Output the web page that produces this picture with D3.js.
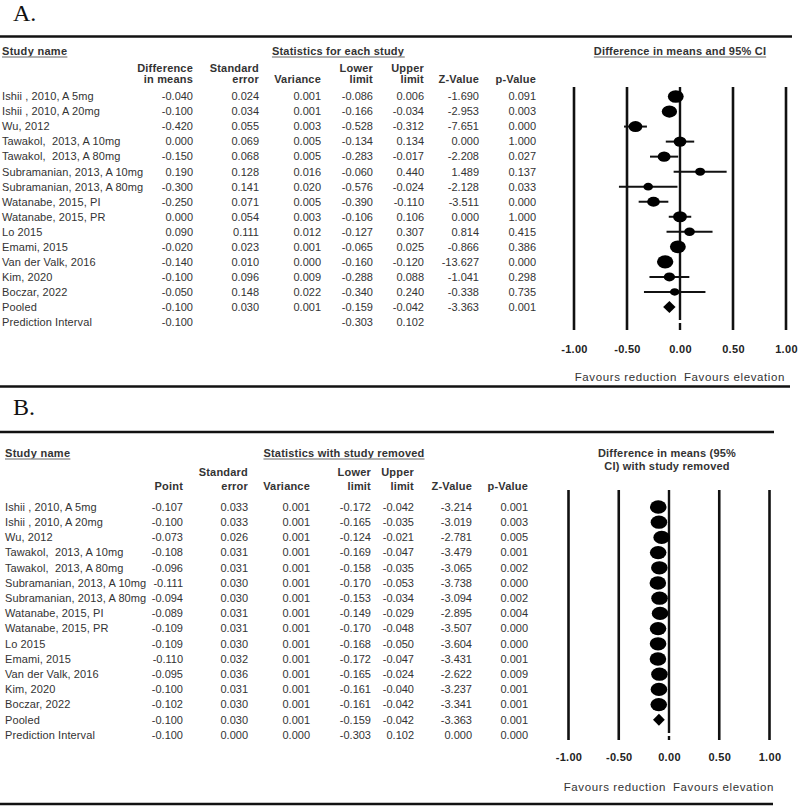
<!DOCTYPE html>
<html>
<head>
<meta charset="utf-8">
<script src="https://cdn.jsdelivr.net/npm/d3@7"></script>
<style>
  html, body { margin: 0; padding: 0; background: #fff; }
  svg text { font-family: "Liberation Sans", Arial, sans-serif; fill: #333; white-space: pre; }
</style>
</head>
<body>
<svg id="chart" width="798" height="806"></svg>
<script>
// ---------------- DATA ----------------
const studies = [
  "Ishii , 2010, A 5mg", "Ishii , 2010, A 20mg", "Wu, 2012",
  "Tawakol,  2013, A 10mg", "Tawakol,  2013, A 80mg",
  "Subramanian, 2013, A 10mg", "Subramanian, 2013, A 80mg",
  "Watanabe, 2015, PI", "Watanabe, 2015, PR", "Lo 2015", "Emami, 2015",
  "Van der Valk, 2016", "Kim, 2020", "Boczar, 2022", "Pooled", "Prediction Interval"
];
const studiesB = [
  "Ishii , 2010, A 5mg", "Ishii , 2010, A 20mg", "Wu, 2012",
  "Tawakol,  2013, A 10mg", "Tawakol,  2013, A 80mg",
  "Subramanian, 2013, A 10mg", "Subramanian, 2013, A 80mg",
  "Watanabe, 2015, PI", "Watanabe, 2015, PR", "Lo 2015", "Emami, 2015",
  "Van der Valk, 2016", "Kim, 2020", "Boczar, 2022", "Pooled", "Prediction Interval"
];

// Panel A: statistics for each study (last two rows: Pooled, Prediction Interval)
const diffA  = [-0.040,-0.100,-0.420, 0.000,-0.150, 0.190,-0.300,-0.250, 0.000, 0.090,-0.020,-0.140,-0.100,-0.050,-0.100,-0.100];
const seA    = [ 0.024, 0.034, 0.055, 0.069, 0.068, 0.128, 0.141, 0.071, 0.054, 0.111, 0.023, 0.010, 0.096, 0.148, 0.030, null];
const varA   = [ 0.001, 0.001, 0.003, 0.005, 0.005, 0.016, 0.020, 0.005, 0.003, 0.012, 0.001, 0.000, 0.009, 0.022, 0.001, null];
const lowerA = [-0.086,-0.166,-0.528,-0.134,-0.283,-0.060,-0.576,-0.390,-0.106,-0.127,-0.065,-0.160,-0.288,-0.340,-0.159,-0.303];
const upperA = [ 0.006,-0.034,-0.312, 0.134,-0.017, 0.440,-0.024,-0.110, 0.106, 0.307, 0.025,-0.120, 0.088, 0.240,-0.042, 0.102];
const zA     = [-1.690,-2.953,-7.651, 0.000,-2.208, 1.489,-2.128,-3.511, 0.000, 0.814,-0.866,-13.627,-1.041,-0.338,-3.363, null];
const pA     = [ 0.091, 0.003, 0.000, 1.000, 0.027, 0.137, 0.033, 0.000, 1.000, 0.415, 0.386, 0.000, 0.298, 0.735, 0.001, null];

// Panel B: statistics with study removed
const pointB = [-0.107,-0.100,-0.073,-0.108,-0.096,-0.111,-0.094,-0.089,-0.109,-0.109,-0.110,-0.095,-0.100,-0.102,-0.100,-0.100];
const seB    = [ 0.033, 0.033, 0.026, 0.031, 0.031, 0.030, 0.030, 0.031, 0.031, 0.030, 0.032, 0.036, 0.031, 0.030, 0.030, 0.000];
const varB   = [ 0.001, 0.001, 0.001, 0.001, 0.001, 0.001, 0.001, 0.001, 0.001, 0.001, 0.001, 0.001, 0.001, 0.001, 0.001, 0.000];
const lowerB = [-0.172,-0.165,-0.124,-0.169,-0.158,-0.170,-0.153,-0.149,-0.170,-0.168,-0.172,-0.165,-0.161,-0.161,-0.159,-0.303];
const upperB = [-0.042,-0.035,-0.021,-0.047,-0.035,-0.053,-0.034,-0.029,-0.048,-0.050,-0.047,-0.024,-0.040,-0.042,-0.042, 0.102];
const zB     = [-3.214,-3.019,-2.781,-3.479,-3.065,-3.738,-3.094,-2.895,-3.507,-3.604,-3.431,-2.622,-3.237,-3.341,-3.363, 0.000];
const pB     = [ 0.001, 0.003, 0.005, 0.001, 0.002, 0.000, 0.002, 0.004, 0.000, 0.000, 0.001, 0.009, 0.001, 0.001, 0.001, 0.000];

const axisTicks = [-1.00, -0.50, 0.00, 0.50, 1.00];

// ---------------- DRAW ----------------
const loc = d3.formatLocale({decimal: ".", thousands: ",", grouping: [3], currency: ["", ""], minus: "-"});
const f3 = loc.format(".3f");
const f2 = loc.format(".2f");

const svg = d3.select("#chart");
const FS = 11;

function txt(g, x, y, s, opts = {}) {
  const t = g.append("text")
    .attr("x", x).attr("y", y).attr("dy", "0.35em")
    .attr("font-size", opts.size || FS)
    .attr("font-weight", opts.bold ? "bold" : "normal")
    .attr("text-anchor", opts.anchor || "start")
    .text(s);
  if (opts.family) t.style("font-family", opts.family);
  if (opts.ls) t.attr("letter-spacing", opts.ls);
  return t;
}
function underline(g, t, y) {
  const b = t.node().getBBox();
  g.append("line").attr("x1", b.x).attr("x2", b.x + b.width)
    .attr("y1", y).attr("y2", y).attr("stroke", "#999").attr("stroke-width", 1.3);
}
function hline(y, x1, x2) {
  svg.append("line").attr("x1", x1).attr("x2", x2).attr("y1", y).attr("y2", y)
    .attr("stroke", "#111").attr("stroke-width", 2.6);
}

function panel(cfg) {
  const g = svg.append("g");
  // panel letter
  txt(g, 13, cfg.letterY, cfg.letter, {size: 24, family: "'Liberation Serif', 'Times New Roman', serif"}).attr("dy", 0).style("fill", "#111");
  hline(cfg.topLine, 0, cfg.lineEnd);
  hline(cfg.bottomLine, 0, cfg.lineEnd2);

  // headers
  const sn = txt(g, cfg.nameX, cfg.h1, "Study name", {bold: true, ls: 0.3});
  underline(g, sn, cfg.h1 + 6);
  const st = txt(g, cfg.statCenter, cfg.h1, cfg.statTitle, {bold: true, anchor: "middle", ls: 0.2});
  underline(g, st, cfg.h1 + 6);
  cfg.plotTitle.forEach((line, i) => {
    const t = txt(g, cfg.plotTitleX, cfg.h1 + i * 13, line, {bold: true, anchor: "middle", ls: 0.2});
    if (cfg.plotTitleUnderline) underline(g, t, cfg.h1 + 6);
  });
  cfg.colHeads.forEach((h, ci) => {
    const lines = h.split("\n");
    lines.forEach((l, li) => {
      const y = cfg.h3 - (lines.length - 1 - li) * cfg.hGap;
      txt(g, cfg.colX[ci], y, l, {bold: true, anchor: "end", ls: 0.2});
    });
  });

  // rows
  const y = d3.scaleLinear().domain([0, cfg.names.length - 1]).range(cfg.rowRange);
  cfg.names.forEach((n, i) => txt(g, cfg.nameX, y(i), n, {ls: 0.1}));
  cfg.cols.forEach((col, ci) => {
    col.forEach((v, i) => {
      if (v === null || v === undefined) return;
      txt(g, cfg.colX[ci], y(i), f3(v), {anchor: "end"});
    });
  });

  // forest plot
  const x = d3.scaleLinear().domain([-1, 1]).range(cfg.xRange);
  const pg = g.append("g");
  axisTicks.forEach(t => {
    if (t === 0) {
      pg.append("line").attr("x1", x(t)).attr("x2", x(t))
        .attr("y1", cfg.vTop).attr("y2", y(cfg.names.length - 1) - 2)
        .attr("stroke", "#111").attr("stroke-width", 2.4);
      pg.append("line").attr("x1", x(t)).attr("x2", x(t))
        .attr("y1", y(cfg.names.length - 1) + 1).attr("y2", cfg.vBot)
        .attr("stroke", "#111").attr("stroke-width", 2.4);
    } else {
      pg.append("line").attr("x1", x(t)).attr("x2", x(t))
        .attr("y1", cfg.vTop).attr("y2", cfg.vBot)
        .attr("stroke", "#111").attr("stroke-width", 2.6);
    }
  });
  const axis = d3.axisBottom(x).tickValues(axisTicks).tickFormat(f2).tickSize(0).tickPadding(0);
  const ag = g.append("g").attr("transform", `translate(0,${cfg.tickY})`).call(axis);
  ag.select(".domain").remove();
  ag.selectAll("text").attr("font-size", FS).attr("font-weight", "bold")
    .attr("dy", "0.35em").attr("letter-spacing", 0.3).style("fill", "#222")
    .style("font-family", "'Liberation Sans', Arial, sans-serif");

  // markers
  const nStud = cfg.names.length - 2;
  for (let i = 0; i < nStud; i++) {
    pg.append("line").attr("x1", x(cfg.lower[i])).attr("x2", x(cfg.upper[i]))
      .attr("y1", y(i)).attr("y2", y(i)).attr("stroke", "#111").attr("stroke-width", 2);
    const rx = cfg.rx(i);
    pg.append("ellipse").attr("cx", x(cfg.est[i])).attr("cy", y(i))
      .attr("rx", rx).attr("ry", rx * 0.8).attr("fill", "#000");
  }
  const pi = nStud;
  const cy = y(pi);
  pg.append("path").attr("d", d3.line()([
    [x(cfg.lower[pi]), cy], [x(cfg.est[pi]), cy - 6],
    [x(cfg.upper[pi]), cy], [x(cfg.est[pi]), cy + 6]
  ]) + "Z").attr("fill", "#000");

  // favours labels
  txt(g, x(0) - 3, cfg.favY, "Favours reduction", {anchor: "end", size: 11.5, ls: 0.6});
  txt(g, x(0) + 4, cfg.favY, "Favours elevation", {anchor: "start", size: 11.5, ls: 0.6});
}

// weights for panel A marker sizes: random-effects weights 1/(se^2 + tau^2)
const nA = studies.length - 2;
const tHalf = (upperA[nA + 1] - lowerA[nA + 1]) / 2 / 2.179;
const tau2 = tHalf * tHalf - seA[nA] * seA[nA];
const wA = seA.slice(0, nA).map(s => 1 / (s * s + tau2));
const rScale = d3.scaleLinear().domain(d3.extent(wA)).range([4.7, 8.2]);

panel({
  letter: "A.", letterY: 21, topLine: 36.5, bottomLine: 386.5, lineEnd: 792, lineEnd2: 790,
  nameX: 2, h1: 51, statCenter: 338, statTitle: "Statistics for each study",
  plotTitle: ["Difference in means and 95% CI"], plotTitleX: 680, plotTitleUnderline: true,
  colHeads: ["Difference\nin means", "Standard\nerror", "Variance", "Lower\nlimit", "Upper\nlimit", "Z-Value", "p-Value"],
  h3: 79, hGap: 11,
  colX: [193, 259, 321, 373, 424, 479, 536],
  names: studies, cols: [diffA, seA, varA, lowerA, upperA, zA, pA],
  rowRange: [96.5, 322],
  xRange: [574, 786], vTop: 87, vBot: 330, tickY: 349, favY: 377,
  est: diffA, lower: lowerA, upper: upperA,
  rx: i => rScale(wA[i])
});

panel({
  letter: "B.", letterY: 415, topLine: 432, bottomLine: 804, lineEnd: 774, lineEnd2: 773,
  nameX: 5, h1: 453, statCenter: 344, statTitle: "Statistics with study removed",
  plotTitle: ["Difference in means (95%", "CI) with study removed"], plotTitleX: 667, plotTitleUnderline: false,
  colHeads: ["Point", "Standard\nerror", "Variance", "Lower\nlimit", "Upper\nlimit", "Z-Value", "p-Value"],
  h3: 486, hGap: 14,
  colX: [183, 248, 310, 371, 414, 472, 528],
  names: studiesB, cols: [pointB, seB, varB, lowerB, upperB, zB, pB],
  rowRange: [507, 735],
  xRange: [568.5, 769.5], vTop: 490, vBot: 740, tickY: 757, favY: 787,
  est: pointB, lower: lowerB, upper: upperB,
  rx: i => 8.3
});
</script>
</body>
</html>
